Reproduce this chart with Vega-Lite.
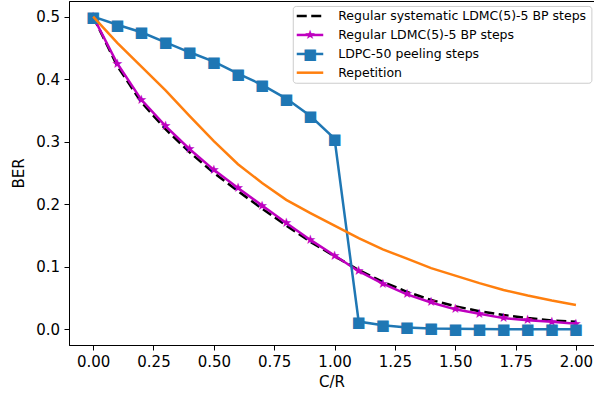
{
  "$schema": "https://vega.github.io/schema/vega-lite/v6.json",
  "width": 525,
  "height": 344,
  "autosize": {"type": "none"},
  "padding": {"left": 69, "top": 1, "right": 0, "bottom": 51},
  "background": "white",
  "config": {
    "view": {"stroke": "black", "strokeWidth": 1},
    "font": "DejaVu Sans",
    "axis": {
      "grid": false,
      "domainColor": "black",
      "domainWidth": 1,
      "tickColor": "black",
      "tickWidth": 1,
      "tickSize": 5,
      "labelColor": "black",
      "titleColor": "black",
      "labelFontSize": 15,
      "titleFontSize": 15,
      "titleFontWeight": "normal"
    }
  },
  "datasets": {
    "sys": [
      {"s": "Regular systematic LDMC(5)-5 BP steps", "c": 0.0, "b": 0.5},
      {"s": "Regular systematic LDMC(5)-5 BP steps", "c": 0.1, "b": 0.421},
      {"s": "Regular systematic LDMC(5)-5 BP steps", "c": 0.2, "b": 0.363},
      {"s": "Regular systematic LDMC(5)-5 BP steps", "c": 0.3, "b": 0.32},
      {"s": "Regular systematic LDMC(5)-5 BP steps", "c": 0.4, "b": 0.283},
      {"s": "Regular systematic LDMC(5)-5 BP steps", "c": 0.5, "b": 0.25},
      {"s": "Regular systematic LDMC(5)-5 BP steps", "c": 0.6, "b": 0.221},
      {"s": "Regular systematic LDMC(5)-5 BP steps", "c": 0.7, "b": 0.193},
      {"s": "Regular systematic LDMC(5)-5 BP steps", "c": 0.8, "b": 0.166},
      {"s": "Regular systematic LDMC(5)-5 BP steps", "c": 0.9, "b": 0.14},
      {"s": "Regular systematic LDMC(5)-5 BP steps", "c": 1.0, "b": 0.117},
      {"s": "Regular systematic LDMC(5)-5 BP steps", "c": 1.1, "b": 0.095},
      {"s": "Regular systematic LDMC(5)-5 BP steps", "c": 1.2, "b": 0.076},
      {"s": "Regular systematic LDMC(5)-5 BP steps", "c": 1.3, "b": 0.06},
      {"s": "Regular systematic LDMC(5)-5 BP steps", "c": 1.4, "b": 0.047},
      {"s": "Regular systematic LDMC(5)-5 BP steps", "c": 1.5, "b": 0.037},
      {"s": "Regular systematic LDMC(5)-5 BP steps", "c": 1.6, "b": 0.029},
      {"s": "Regular systematic LDMC(5)-5 BP steps", "c": 1.7, "b": 0.023},
      {"s": "Regular systematic LDMC(5)-5 BP steps", "c": 1.8, "b": 0.018},
      {"s": "Regular systematic LDMC(5)-5 BP steps", "c": 1.9, "b": 0.014},
      {"s": "Regular systematic LDMC(5)-5 BP steps", "c": 2.0, "b": 0.012}
    ],
    "reg": [
      {"s": "Regular LDMC(5)-5 BP steps", "c": 0.0, "b": 0.5},
      {"s": "Regular LDMC(5)-5 BP steps", "c": 0.1, "b": 0.425},
      {"s": "Regular LDMC(5)-5 BP steps", "c": 0.2, "b": 0.367},
      {"s": "Regular LDMC(5)-5 BP steps", "c": 0.3, "b": 0.325},
      {"s": "Regular LDMC(5)-5 BP steps", "c": 0.4, "b": 0.288},
      {"s": "Regular LDMC(5)-5 BP steps", "c": 0.5, "b": 0.255},
      {"s": "Regular LDMC(5)-5 BP steps", "c": 0.6, "b": 0.226},
      {"s": "Regular LDMC(5)-5 BP steps", "c": 0.7, "b": 0.198},
      {"s": "Regular LDMC(5)-5 BP steps", "c": 0.8, "b": 0.17},
      {"s": "Regular LDMC(5)-5 BP steps", "c": 0.9, "b": 0.143},
      {"s": "Regular LDMC(5)-5 BP steps", "c": 1.0, "b": 0.118},
      {"s": "Regular LDMC(5)-5 BP steps", "c": 1.1, "b": 0.093},
      {"s": "Regular LDMC(5)-5 BP steps", "c": 1.2, "b": 0.073},
      {"s": "Regular LDMC(5)-5 BP steps", "c": 1.3, "b": 0.056},
      {"s": "Regular LDMC(5)-5 BP steps", "c": 1.4, "b": 0.043},
      {"s": "Regular LDMC(5)-5 BP steps", "c": 1.5, "b": 0.032},
      {"s": "Regular LDMC(5)-5 BP steps", "c": 1.6, "b": 0.025},
      {"s": "Regular LDMC(5)-5 BP steps", "c": 1.7, "b": 0.018},
      {"s": "Regular LDMC(5)-5 BP steps", "c": 1.8, "b": 0.0145},
      {"s": "Regular LDMC(5)-5 BP steps", "c": 1.9, "b": 0.012},
      {"s": "Regular LDMC(5)-5 BP steps", "c": 2.0, "b": 0.009}
    ],
    "ldpc": [
      {"s": "LDPC-50 peeling steps", "c": 0.0, "b": 0.5},
      {"s": "LDPC-50 peeling steps", "c": 0.1, "b": 0.487},
      {"s": "LDPC-50 peeling steps", "c": 0.2, "b": 0.475},
      {"s": "LDPC-50 peeling steps", "c": 0.3, "b": 0.459},
      {"s": "LDPC-50 peeling steps", "c": 0.4, "b": 0.443},
      {"s": "LDPC-50 peeling steps", "c": 0.5, "b": 0.428},
      {"s": "LDPC-50 peeling steps", "c": 0.6, "b": 0.409},
      {"s": "LDPC-50 peeling steps", "c": 0.7, "b": 0.391},
      {"s": "LDPC-50 peeling steps", "c": 0.8, "b": 0.369},
      {"s": "LDPC-50 peeling steps", "c": 0.9, "b": 0.341},
      {"s": "LDPC-50 peeling steps", "c": 1.0, "b": 0.305},
      {"s": "LDPC-50 peeling steps", "c": 1.1, "b": 0.0125},
      {"s": "LDPC-50 peeling steps", "c": 1.2, "b": 0.0065},
      {"s": "LDPC-50 peeling steps", "c": 1.3, "b": 0.003},
      {"s": "LDPC-50 peeling steps", "c": 1.4, "b": 0.0015},
      {"s": "LDPC-50 peeling steps", "c": 1.5, "b": 0.001},
      {"s": "LDPC-50 peeling steps", "c": 1.6, "b": 0.0005},
      {"s": "LDPC-50 peeling steps", "c": 1.7, "b": 0.0003},
      {"s": "LDPC-50 peeling steps", "c": 1.8, "b": 0.0002},
      {"s": "LDPC-50 peeling steps", "c": 1.9, "b": 0.0001},
      {"s": "LDPC-50 peeling steps", "c": 2.0, "b": 0.0001}
    ],
    "rep": [
      {"s": "Repetition", "c": 0.0, "b": 0.5},
      {"s": "Repetition", "c": 0.1, "b": 0.458},
      {"s": "Repetition", "c": 0.2, "b": 0.42},
      {"s": "Repetition", "c": 0.3, "b": 0.382},
      {"s": "Repetition", "c": 0.4, "b": 0.341},
      {"s": "Repetition", "c": 0.5, "b": 0.301},
      {"s": "Repetition", "c": 0.6, "b": 0.264},
      {"s": "Repetition", "c": 0.7, "b": 0.234},
      {"s": "Repetition", "c": 0.8, "b": 0.207},
      {"s": "Repetition", "c": 0.9, "b": 0.186},
      {"s": "Repetition", "c": 1.0, "b": 0.166},
      {"s": "Repetition", "c": 1.1, "b": 0.146},
      {"s": "Repetition", "c": 1.2, "b": 0.128},
      {"s": "Repetition", "c": 1.3, "b": 0.113},
      {"s": "Repetition", "c": 1.4, "b": 0.098},
      {"s": "Repetition", "c": 1.5, "b": 0.086},
      {"s": "Repetition", "c": 1.6, "b": 0.074},
      {"s": "Repetition", "c": 1.7, "b": 0.063},
      {"s": "Repetition", "c": 1.8, "b": 0.054},
      {"s": "Repetition", "c": 1.9, "b": 0.046},
      {"s": "Repetition", "c": 2.0, "b": 0.039}
    ]
  },
  "layer": [
    {
      "data": {"name": "sys"},
      "mark": {"type": "line", "strokeWidth": 2.5, "strokeDash": [10, 4.5], "color": "#000000"},
      "encoding": {
        "x": {
          "field": "c", "type": "quantitative",
          "scale": {"domain": [-0.1, 2.0748], "nice": false, "zero": false},
          "axis": {"values": [0, 0.25, 0.5, 0.75, 1, 1.25, 1.5, 1.75, 2], "format": ".2f", "title": "C/R", "labelPadding": 4, "titlePadding": 5}
        },
        "y": {
          "field": "b", "type": "quantitative",
          "scale": {"domain": [-0.025, 0.525], "nice": false, "zero": false},
          "axis": {"values": [0, 0.1, 0.2, 0.3, 0.4, 0.5], "format": ".1f", "title": "BER", "labelPadding": 4.5, "titlePadding": 9}
        }
      }
    },
    {
      "data": {"name": "reg"},
      "mark": {"type": "line", "strokeWidth": 2.5, "color": "#bf00bf"},
      "encoding": {
        "x": {"field": "c", "type": "quantitative"},
        "y": {"field": "b", "type": "quantitative"}
      }
    },
    {
      "data": {"name": "reg"},
      "mark": {"type": "text", "align": "center", "baseline": "middle", "fontSize": 13, "font": "DejaVu Sans", "color": "#bf00bf"},
      "encoding": {
        "x": {"field": "c", "type": "quantitative"},
        "y": {"field": "b", "type": "quantitative"},
        "text": {"value": "★"}
      }
    },
    {
      "data": {"name": "ldpc"},
      "mark": {"type": "line", "strokeWidth": 2.5, "color": "#1f77b4"},
      "encoding": {
        "x": {"field": "c", "type": "quantitative"},
        "y": {"field": "b", "type": "quantitative"}
      }
    },
    {
      "data": {"name": "ldpc"},
      "mark": {"type": "text", "align": "center", "baseline": "middle", "fontSize": 15, "font": "DejaVu Sans", "color": "#1f77b4"},
      "encoding": {
        "x": {"field": "c", "type": "quantitative"},
        "y": {"field": "b", "type": "quantitative"},
        "text": {"value": "■"}
      }
    },
    {
      "data": {"name": "rep"},
      "mark": {"type": "line", "strokeWidth": 2.5, "color": "#ff7f0e"},
      "encoding": {
        "x": {"field": "c", "type": "quantitative"},
        "y": {"field": "b", "type": "quantitative"}
      }
    },
    {
      "data": {"values": [{"k": 1}]},
      "mark": {"type": "rect", "fill": "white", "fillOpacity": 0.85, "stroke": "#cccccc", "strokeWidth": 1, "cornerRadius": 3},
      "encoding": {
        "x": {"datum": 0.829, "type": "quantitative"},
        "x2": {"datum": 2.066},
        "y": {"datum": 0.5163, "type": "quantitative"},
        "y2": {"datum": 0.3935}
      }
    },
    {
      "data": {"values": [{"k": 1}]},
      "mark": {"type": "rule", "strokeWidth": 2.5, "color": "#000000", "strokeDash": [10, 4.5]},
      "encoding": {
        "x": {"datum": 0.8434, "type": "quantitative"},
        "x2": {"datum": 0.9532},
        "y": {"datum": 0.5011, "type": "quantitative"}
      }
    },
    {
      "data": {"values": [{"k": 1}]},
      "mark": {"type": "rule", "strokeWidth": 2.5, "color": "#bf00bf"},
      "encoding": {
        "x": {"datum": 0.8434, "type": "quantitative"},
        "x2": {"datum": 0.9532},
        "y": {"datum": 0.4707, "type": "quantitative"}
      }
    },
    {
      "data": {"values": [{"k": 1}]},
      "mark": {"type": "text", "align": "center", "baseline": "middle", "fontSize": 13, "font": "DejaVu Sans", "color": "#bf00bf"},
      "encoding": {
        "x": {"datum": 0.8983, "type": "quantitative"},
        "y": {"datum": 0.4707, "type": "quantitative"},
        "text": {"value": "★"}
      }
    },
    {
      "data": {"values": [{"k": 1}]},
      "mark": {"type": "rule", "strokeWidth": 2.5, "color": "#1f77b4"},
      "encoding": {
        "x": {"datum": 0.8434, "type": "quantitative"},
        "x2": {"datum": 0.9532},
        "y": {"datum": 0.4403, "type": "quantitative"}
      }
    },
    {
      "data": {"values": [{"k": 1}]},
      "mark": {"type": "text", "align": "center", "baseline": "middle", "fontSize": 15, "font": "DejaVu Sans", "color": "#1f77b4"},
      "encoding": {
        "x": {"datum": 0.8983, "type": "quantitative"},
        "y": {"datum": 0.4403, "type": "quantitative"},
        "text": {"value": "■"}
      }
    },
    {
      "data": {"values": [{"k": 1}]},
      "mark": {"type": "rule", "strokeWidth": 2.5, "color": "#ff7f0e"},
      "encoding": {
        "x": {"datum": 0.8434, "type": "quantitative"},
        "x2": {"datum": 0.9532},
        "y": {"datum": 0.4104, "type": "quantitative"}
      }
    },
    {
      "data": {"values": [{"k": 1}]},
      "mark": {"type": "text", "align": "left", "baseline": "middle", "fontSize": 12.5, "color": "black", "font": "DejaVu Sans"},
      "encoding": {
        "x": {"datum": 1.0153, "type": "quantitative"},
        "y": {"datum": 0.5011, "type": "quantitative"},
        "text": {"value": "Regular systematic LDMC(5)-5 BP steps"}
      }
    },
    {
      "data": {"values": [{"k": 1}]},
      "mark": {"type": "text", "align": "left", "baseline": "middle", "fontSize": 12.5, "color": "black", "font": "DejaVu Sans"},
      "encoding": {
        "x": {"datum": 1.0153, "type": "quantitative"},
        "y": {"datum": 0.4707, "type": "quantitative"},
        "text": {"value": "Regular LDMC(5)-5 BP steps"}
      }
    },
    {
      "data": {"values": [{"k": 1}]},
      "mark": {"type": "text", "align": "left", "baseline": "middle", "fontSize": 12.5, "color": "black", "font": "DejaVu Sans"},
      "encoding": {
        "x": {"datum": 1.0153, "type": "quantitative"},
        "y": {"datum": 0.4403, "type": "quantitative"},
        "text": {"value": "LDPC-50 peeling steps"}
      }
    },
    {
      "data": {"values": [{"k": 1}]},
      "mark": {"type": "text", "align": "left", "baseline": "middle", "fontSize": 12.5, "color": "black", "font": "DejaVu Sans"},
      "encoding": {
        "x": {"datum": 1.0153, "type": "quantitative"},
        "y": {"datum": 0.4104, "type": "quantitative"},
        "text": {"value": "Repetition"}
      }
    }
  ]
}
